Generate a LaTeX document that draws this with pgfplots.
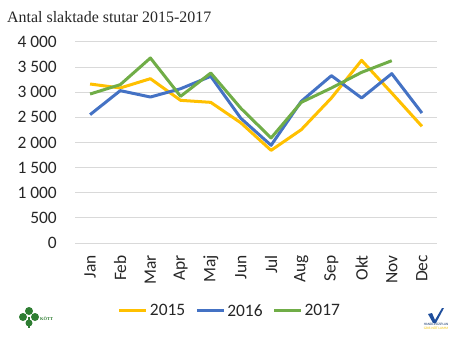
\documentclass[border=0pt]{standalone}
\usepackage{fontspec}
\setmainfont{Carlito}
\newfontfamily\titlefont{Liberation Serif}
\usepackage{pgfplots}
\pgfplotsset{compat=1.18}
\definecolor{cA}{HTML}{FFC000}
\definecolor{cB}{HTML}{4472C4}
\definecolor{cC}{HTML}{70AD47}
\definecolor{gridc}{HTML}{D9D9D9}
\definecolor{logogreen}{HTML}{2E7D32}
\definecolor{logoblue}{HTML}{1F4E9C}
\definecolor{logoyellow}{HTML}{F2C200}
\begin{document}
\begin{tikzpicture}[x=1bp,y=1bp]
\useasboundingbox (0,0) rectangle (470,350);
\node[anchor=base west, inner sep=0pt, font=\titlefont\fontsize{16}{18}\selectfont, text=black!85] at (7,328) {Antal slaktade stutar 2015-2017};
\begin{axis}[
  at={(75bp,107bp)}, anchor=south west,
  scale only axis, width=362bp, height=201bp,
  xmin=-0.5, xmax=11.5, ymin=0, ymax=4000,
  xtick={0,...,11},
  xticklabels={Jan,Feb,Mar,Apr,Maj,Jun,Jul,Aug,Sep,Okt,Nov,Dec},
  x tick label style={rotate=90, anchor=east, inner sep=0pt},
  xticklabel shift=12bp,
  ytick={0,500,...,4000},
  yticklabel style={inner sep=0pt},
  yticklabel shift=18bp,
  /pgf/number format/assume math mode=true,
  /pgf/number format/1000 sep={\hspace{0.22em}},
  axis line style={draw=none},
  major tick style={draw=none},
  ymajorgrids,
  grid style={draw=gridc, line width=1bp},
  tick label style={font=\fontsize{17.5}{19}\selectfont, text=black!85},
  legend style={at={(0.428,-0.338)}, anchor=center, draw=none, fill=none,
    font=\fontsize{17.5}{19}\selectfont, text=black!85,
    /tikz/every even column/.append style={column sep=8bp}},
  legend columns=3,
  legend image code/.code={\draw[#1, line width=3bp] (0,0) -- (27bp,0);},
  every axis plot/.append style={line width=3bp, line join=round},
]
\addplot[cA, mark=none] coordinates {(0,3164) (1,3085) (2,3270) (3,2839) (4,2799) (5,2390) (6,1844) (7,2255) (8,2886) (9,3635) (10,2985) (11,2322)};
\addlegendentry{2015}
\addplot[cB, mark=none] coordinates {(0,2554) (1,3032) (2,2905) (3,3070) (4,3317) (5,2480) (6,1944) (7,2819) (8,3330) (9,2886) (10,3370) (11,2587)};
\addlegendentry{2016}
\addplot[cC, mark=none] coordinates {(0,2965) (1,3151) (2,3682) (3,2919) (4,3383) (5,2680) (6,2090) (7,2799) (8,3085) (9,3396) (10,3628)};
\addlegendentry{2017}
\end{axis}
% left logo (decorative)
\begin{scope}[logogreen]
\fill (29,39) circle (4);
\fill (23,33) circle (4);
\fill (35,33) circle (4);
\fill (29,27) circle (3.5);
\draw[line width=1.5] (29,33) -- (29,22);
\end{scope}
\node[anchor=west, inner sep=0pt, font=\titlefont\bfseries\fontsize{4.5}{5}\selectfont, text=logogreen] at (40,31) {KÖTT};
% right logo (decorative)
\fill[logoblue] (428,36) -- (432,37) -- (435,30) -- (442,42) -- (444,42) -- (436,27) -- (433,27) -- cycle;
\node[inner sep=0pt, font=\fontsize{3.5}{4}\selectfont, text=logoblue!70!black] at (436,25.5) {HANDLINGSPLAN};
\node[inner sep=0pt, font=\fontsize{3.5}{4}\selectfont, text=logoyellow] at (436,21.5) {GRIS-NÖT-LAMM};
\end{tikzpicture}
\end{document}
